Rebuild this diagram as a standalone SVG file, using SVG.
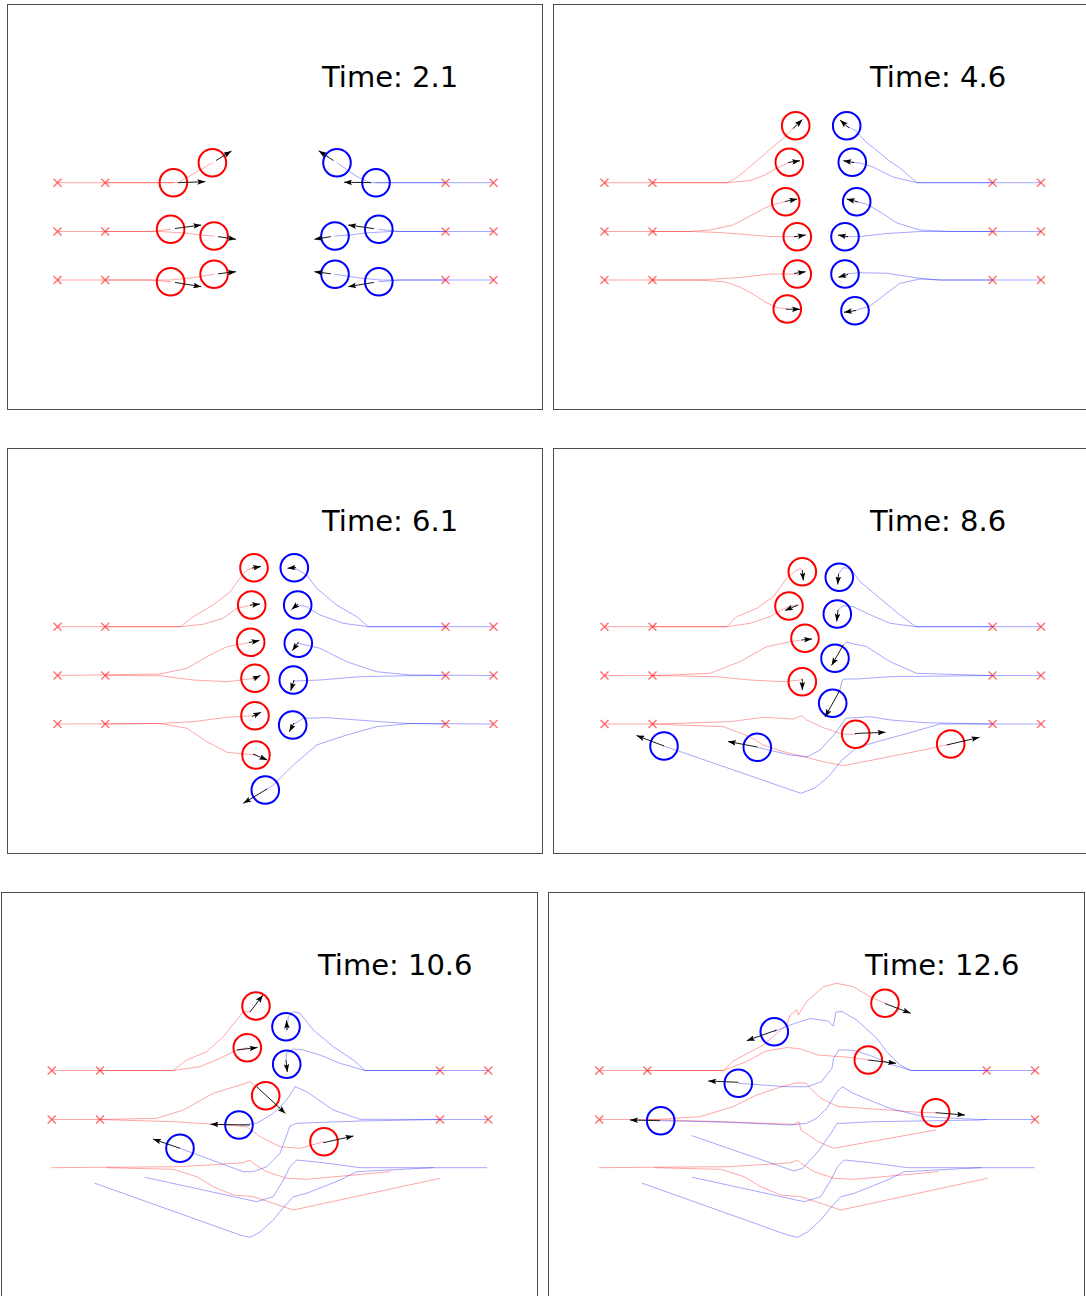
<svg xmlns="http://www.w3.org/2000/svg" xmlns:xlink="http://www.w3.org/1999/xlink" width="1086" height="1296" viewBox="0 0 1086 1296">
<style>
.fr{fill:none;stroke:#4d4d4d;stroke-width:1}
.t{font-family:"DejaVu Sans",sans-serif;font-size:29px;fill:#000}
.rp{fill:none;stroke:#ff0000;stroke-opacity:0.35;stroke-width:1;stroke-linejoin:round;stroke-linecap:round}
.bp{fill:none;stroke:#0000ff;stroke-opacity:0.35;stroke-width:1;stroke-linejoin:round;stroke-linecap:round}
.rc{fill:none;stroke:#ff0000;stroke-width:2}
.bc{fill:none;stroke:#0000ff;stroke-width:2}
.ar{stroke:#000;stroke-width:0.9;marker-end:url(#ah)}
.xm{fill:none;stroke:#ff0000;stroke-opacity:0.55;stroke-width:1.5}
</style>
<defs>
<marker id="ah" viewBox="0 0 10 7" refX="10" refY="3.5" markerWidth="8" markerHeight="5.6" markerUnits="userSpaceOnUse" orient="auto"><path d="M0,0 L10,3.5 L0,7 L2,3.5 z" fill="#000"/></marker>
<path id="x" class="xm" d="M-4,-4 L4,4 M-4,4 L4,-4"/>
<g id="row3">
<polyline class="rp" points="51.7,1167.7 180,1166.7 220,1164.3 243.3,1162.7 250,1160 253.3,1163.3 266.7,1171.7 286.7,1178.3 306.7,1179.3 390,1171.7"/>
<polyline class="rp" points="106.7,1167.7 173.3,1169.3 196.7,1176.7 213.3,1186.7 233.3,1195 253.3,1196.7 273.3,1203.3 293.3,1210 440,1178.3"/>
<polyline class="bp" points="486.7,1167.7 360,1167.7 323.3,1162.7 296.7,1160 290,1166.7 283.3,1180 273.3,1196.7 256.7,1201.7 145,1177.3"/>
<polyline class="bp" points="433.3,1167.7 356.7,1171.7 340,1180 306.7,1193.3 293.3,1196.7 283,1208 273.3,1220 260,1232 250,1237.3 240,1235 95,1183.3"/>
</g>
</defs>
<rect width="1086" height="1296" fill="#fff"/>

<g id="panel1">
<rect class="fr" x="7.5" y="4.5" width="535" height="405"/>
<text class="t" x="322" y="87">Time: 2.1</text>
<g id="p1-paths">
<polyline class="rp" points="57.5,182.7 173.4,182.7"/>
<polyline class="rp" points="105.2,182.7 178,182.7 188,177 200,170 212.4,162.7"/>
<polyline class="rp" points="57.5,231.5 150,231.5 170.6,229.3"/>
<polyline class="rp" points="105.2,231.5 160,231.5 185,233 200,235 214.1,236"/>
<polyline class="rp" points="57.5,280 150,280 170.6,281.7"/>
<polyline class="rp" points="105.2,280 170,280 190,278 214.1,274.3"/>
<polyline class="bp" points="493.5,182.7 376,182.7"/>
<polyline class="bp" points="445.5,182.7 370,182.7 356,176 337,162.7"/>
<polyline class="bp" points="493.5,231.5 400,231.5 378.8,229.3"/>
<polyline class="bp" points="445.5,231.5 390,231.5 365,233 350,235 335,236"/>
<polyline class="bp" points="493.5,280 400,280 378.8,281.7"/>
<polyline class="bp" points="445.5,280 380,280 360,278 335,274.3"/>
</g>
<g id="p1-marks">
<use xlink:href="#x" x="57.5" y="182.7"/><use xlink:href="#x" x="105.2" y="182.7"/><use xlink:href="#x" x="445.5" y="182.7"/><use xlink:href="#x" x="493.5" y="182.7"/>
<use xlink:href="#x" x="57.5" y="231.5"/><use xlink:href="#x" x="105.2" y="231.5"/><use xlink:href="#x" x="445.5" y="231.5"/><use xlink:href="#x" x="493.5" y="231.5"/>
<use xlink:href="#x" x="57.5" y="280"/><use xlink:href="#x" x="105.2" y="280"/><use xlink:href="#x" x="445.5" y="280"/><use xlink:href="#x" x="493.5" y="280"/>
</g>
<g id="p1-agents">
<circle class="rc" cx="173.4" cy="182.7" r="13.8"/><circle class="rc" cx="212.4" cy="162.7" r="13.8"/>
<circle class="rc" cx="170.6" cy="229.3" r="13.8"/><circle class="rc" cx="214.1" cy="236" r="13.8"/>
<circle class="rc" cx="170.6" cy="281.7" r="13.8"/><circle class="rc" cx="214.1" cy="274.3" r="13.8"/>
<circle class="bc" cx="337" cy="162.7" r="13.8"/><circle class="bc" cx="376" cy="182.7" r="13.8"/>
<circle class="bc" cx="378.8" cy="229.3" r="13.8"/><circle class="bc" cx="335" cy="236" r="13.8"/>
<circle class="bc" cx="335" cy="274.3" r="13.8"/><circle class="bc" cx="378.8" cy="281.7" r="13.8"/>
</g>
<g id="p1-arrows">
<line class="ar" x1="178" y1="182.7" x2="205.4" y2="181.7"/>
<line class="ar" x1="216" y1="160.5" x2="231.5" y2="151"/>
<line class="ar" x1="175" y1="228.5" x2="201.3" y2="225"/>
<line class="ar" x1="218" y1="236.6" x2="236" y2="239.3"/>
<line class="ar" x1="175" y1="282.4" x2="201.3" y2="286.7"/>
<line class="ar" x1="218" y1="273.8" x2="236" y2="271.7"/>
<line class="ar" x1="333.5" y1="160.5" x2="318.6" y2="150.7"/>
<line class="ar" x1="371" y1="182.6" x2="344" y2="182.3"/>
<line class="ar" x1="374" y1="228.6" x2="348.2" y2="225"/>
<line class="ar" x1="331" y1="236.6" x2="314.4" y2="239.3"/>
<line class="ar" x1="331" y1="273.8" x2="314.4" y2="271.7"/>
<line class="ar" x1="374" y1="282.4" x2="348.2" y2="286.7"/>
</g>
</g>

<g id="panel2">
<rect class="fr" x="553.5" y="4.5" width="540" height="405"/>
<text class="t" x="870" y="87">Time: 4.6</text>
<g id="p2-paths">
<polyline class="rp" points="652.5,182.7 727,182.7 736,178 745,171 760,158 774,146 785,137 791.7,130 795.7,125.7"/>
<polyline class="rp" points="604.5,182.7 727,182.7 750,180.5 765,175 777,168 789.3,162.3"/>
<polyline class="rp" points="604.5,231.5 690,231.5 710,230 733,225 750,216 765,208 775,204 785.7,201.7"/>
<polyline class="rp" points="652.5,231.5 690,231.5 720,232.5 745,234.5 770,236.5 797.3,236.7"/>
<polyline class="rp" points="604.5,280 700,280 740,277.5 770,274 797.3,274"/>
<polyline class="rp" points="652.5,280 700,280 725,282 740,287 753,294 765,302 777,307.5 787.3,309"/>
<polyline class="bp" points="992.6,182.7 917,182.7 908,175 900,168 890,161.5 880,153 866,142 856,131 846.7,125.7"/>
<polyline class="bp" points="1041,182.7 917,182.7 893,177 873,167 860,163 852.3,162.3"/>
<polyline class="bp" points="1041,231.5 950,231.5 920,230 897,223 877,210 866,204 856.7,201.7"/>
<polyline class="bp" points="992.6,231.5 950,231.5 920,231.5 887,233.5 860,236.5 845,236.7"/>
<polyline class="bp" points="1041,280 940,280 920,278.3 887,273.3 860,272.7 845,274"/>
<polyline class="bp" points="992.6,280 940,280 920,279 900,283.3 887,293 870,306 855,310.7"/>
</g>
<g id="p2-marks">
<use xlink:href="#x" x="604.5" y="182.7"/><use xlink:href="#x" x="652.5" y="182.7"/><use xlink:href="#x" x="992.6" y="182.7"/><use xlink:href="#x" x="1041" y="182.7"/>
<use xlink:href="#x" x="604.5" y="231.5"/><use xlink:href="#x" x="652.5" y="231.5"/><use xlink:href="#x" x="992.6" y="231.5"/><use xlink:href="#x" x="1041" y="231.5"/>
<use xlink:href="#x" x="604.5" y="280"/><use xlink:href="#x" x="652.5" y="280"/><use xlink:href="#x" x="992.6" y="280"/><use xlink:href="#x" x="1041" y="280"/>
</g>
<g id="p2-agents">
<circle class="rc" cx="795.7" cy="125.7" r="13.8"/><circle class="rc" cx="789.3" cy="162.3" r="13.8"/>
<circle class="rc" cx="785.7" cy="201.7" r="13.8"/><circle class="rc" cx="797.3" cy="236.7" r="13.8"/>
<circle class="rc" cx="797.3" cy="274" r="13.8"/><circle class="rc" cx="787.3" cy="309" r="13.8"/>
<circle class="bc" cx="846.7" cy="125.7" r="13.8"/><circle class="bc" cx="852.3" cy="162.3" r="13.8"/>
<circle class="bc" cx="856.7" cy="201.7" r="13.8"/><circle class="bc" cx="845" cy="236.7" r="13.8"/>
<circle class="bc" cx="845" cy="274" r="13.8"/><circle class="bc" cx="855" cy="310.7" r="13.8"/>
</g>
<g id="p2-arrows">
<line class="ar" x1="793" y1="128.5" x2="802.5" y2="119.5"/>
<line class="ar" x1="788" y1="162.5" x2="800" y2="160.7"/>
<line class="ar" x1="785" y1="201.5" x2="797.3" y2="199"/>
<line class="ar" x1="794" y1="236.7" x2="805.7" y2="235"/>
<line class="ar" x1="794" y1="273.5" x2="805.7" y2="271.7"/>
<line class="ar" x1="786" y1="309.2" x2="800" y2="309.3"/>
<line class="ar" x1="849" y1="128" x2="840" y2="120"/>
<line class="ar" x1="854" y1="162.5" x2="843.3" y2="160.7"/>
<line class="ar" x1="858" y1="202" x2="846.7" y2="199"/>
<line class="ar" x1="848" y1="236.7" x2="838" y2="235"/>
<line class="ar" x1="848" y1="274.5" x2="838.3" y2="277.3"/>
<line class="ar" x1="856" y1="310.5" x2="844" y2="312.3"/>
</g>
</g>

<g id="panel3">
<rect class="fr" x="7.5" y="448.5" width="535" height="405"/>
<text class="t" x="322" y="531">Time: 6.1</text>
<g id="p3-paths">
<polyline class="rp" points="57.5,626.7 180,626.7 193.3,616.7 213,605 230,592 240,578 247,570 254,567.7"/>
<polyline class="rp" points="105.2,626.7 180,626.7 203,624.3 223,618.3 237,608.3 251.7,605"/>
<polyline class="rp" points="57.5,675.5 160,674 187,668.3 210,655 227,646.7 250.7,642.3"/>
<polyline class="rp" points="105.2,675.5 160,675.7 193,680 227,681.7 255,678.3"/>
<polyline class="rp" points="57.5,724 160,723.5 193,721.7 227,717.3 255,715.7"/>
<polyline class="rp" points="105.2,724 160,723.5 187,728.3 207,741.7 227,752.3 256,755"/>
<polyline class="bp" points="493.5,626.7 368.3,626.7 356.7,616.7 336.7,605 316.7,588.3 306.7,575 294.3,567.7"/>
<polyline class="bp" points="445.5,626.7 368.3,626.7 343.3,623.3 320,615 306.7,606.7 297.7,605"/>
<polyline class="bp" points="493.5,675.5 410,675 376.7,671.7 346.7,661.7 320,648.3 298.3,643.3"/>
<polyline class="bp" points="445.5,675.5 410,675.7 360,676.7 320,680 293.3,681"/>
<polyline class="bp" points="493.5,724 410,723.5 380,721.7 326.7,717.7 303.3,718.3 292.7,725"/>
<polyline class="bp" points="445.5,724 410,723.5 376.7,726.7 346.7,735 316.7,745 293.3,765 273.3,785 265.3,790"/>
</g>
<g id="p3-marks">
<use xlink:href="#x" x="57.5" y="626.7"/><use xlink:href="#x" x="105.2" y="626.7"/><use xlink:href="#x" x="445.5" y="626.7"/><use xlink:href="#x" x="493.5" y="626.7"/>
<use xlink:href="#x" x="57.5" y="675.5"/><use xlink:href="#x" x="105.2" y="675.5"/><use xlink:href="#x" x="445.5" y="675.5"/><use xlink:href="#x" x="493.5" y="675.5"/>
<use xlink:href="#x" x="57.5" y="724"/><use xlink:href="#x" x="105.2" y="724"/><use xlink:href="#x" x="445.5" y="724"/><use xlink:href="#x" x="493.5" y="724"/>
</g>
<g id="p3-agents">
<circle class="rc" cx="254" cy="567.7" r="13.8"/><circle class="rc" cx="251.7" cy="605" r="13.8"/>
<circle class="rc" cx="250.7" cy="642.3" r="13.8"/><circle class="rc" cx="255" cy="678.3" r="13.8"/>
<circle class="rc" cx="255" cy="715.7" r="13.8"/><circle class="rc" cx="256" cy="755" r="13.8"/>
<circle class="bc" cx="294.3" cy="567.7" r="13.8"/><circle class="bc" cx="297.7" cy="605" r="13.8"/>
<circle class="bc" cx="298.3" cy="643.3" r="13.8"/><circle class="bc" cx="293.3" cy="680" r="13.8"/>
<circle class="bc" cx="292.7" cy="725" r="13.8"/><circle class="bc" cx="265.3" cy="790" r="13.8"/>
</g>
<g id="p3-arrows">
<line class="ar" x1="252" y1="568" x2="261" y2="566.5"/>
<line class="ar" x1="250" y1="605.2" x2="260" y2="604"/>
<line class="ar" x1="249" y1="642.5" x2="259.5" y2="640.5"/>
<line class="ar" x1="253" y1="679" x2="260.5" y2="675.5"/>
<line class="ar" x1="252" y1="716.5" x2="261" y2="712.3"/>
<line class="ar" x1="253" y1="754" x2="267.3" y2="760"/>
<line class="ar" x1="296" y1="567.5" x2="287.5" y2="568.3"/>
<line class="ar" x1="298" y1="604" x2="291.5" y2="609.5"/>
<line class="ar" x1="298.5" y1="642" x2="292.3" y2="650.7"/>
<line class="ar" x1="294" y1="680" x2="290.7" y2="690.7"/>
<line class="ar" x1="294" y1="723" x2="289.3" y2="731.7"/>
<line class="ar" x1="267" y1="789" x2="243.3" y2="803.3"/>
</g>
</g>

<g id="panel4">
<rect class="fr" x="553.5" y="448.5" width="540" height="405"/>
<text class="t" x="870" y="531">Time: 8.6</text>
<g id="p4-paths">
<polyline class="rp" points="604.5,626.7 726.7,626.7 736.7,616.7 756.7,608.3 773.3,596.7 786.7,578.3 795,571 800.7,568.3 802.3,571"/>
<polyline class="rp" points="652.5,626.7 726.7,626.7 750,623.3 770,616.7 781.7,610 789,606.5 798,605"/>
<polyline class="rp" points="604.5,675.5 656.7,675.5 710,673.3 740,661.7 766.7,646.7 790,641.7 802,640"/>
<polyline class="rp" points="652.5,675.5 716.7,676.7 750,680 783.3,681.7 800.7,680 802.3,678.3"/>
<polyline class="rp" points="604.5,724 656.7,724 730,721.7 763.3,717.3 793.3,719 801.7,715.7 806.7,720 823.3,727.7 843.3,734.3 855.7,734.3"/>
<polyline class="rp" points="652.5,724 723.3,726.7 750,736.7 763.3,745 783.3,751.7 803.3,756.7 823.3,761.7 843.3,765.7 923.3,750 950.7,744"/>
<polyline class="bp" points="1041,626.7 916,626.7 900,615 880,598.3 860,581.7 850,568.3 843.3,567.7 840,572 838.5,574"/>
<polyline class="bp" points="992.6,626.7 916,626.7 890,623.3 866.7,613.3 853.3,606.7 843.3,605.7 838,610"/>
<polyline class="bp" points="1041,675.5 990,675.5 916.7,673.3 890,661.7 866.7,646.7 846.7,642.3 843.3,645"/>
<polyline class="bp" points="992.6,675.5 890,676.7 856.7,679 843.3,679 841.7,681.7 840,690"/>
<polyline class="bp" points="1041,724 940,724 908,733.3 876.8,741.7 856,748.3 842,760 828.4,776.7 815,788 800.8,793.3 664,746"/>
<polyline class="bp" points="992.6,724 925,722.7 890.7,720 870,716.7 845.7,718.3 835.4,733.3 820,750 807.7,756.7 790,755 757.3,747.3"/>
</g>
<g id="p4-marks">
<use xlink:href="#x" x="604.5" y="626.7"/><use xlink:href="#x" x="652.5" y="626.7"/><use xlink:href="#x" x="992.6" y="626.7"/><use xlink:href="#x" x="1041" y="626.7"/>
<use xlink:href="#x" x="604.5" y="675.5"/><use xlink:href="#x" x="652.5" y="675.5"/><use xlink:href="#x" x="992.6" y="675.5"/><use xlink:href="#x" x="1041" y="675.5"/>
<use xlink:href="#x" x="604.5" y="724"/><use xlink:href="#x" x="652.5" y="724"/><use xlink:href="#x" x="992.6" y="724"/><use xlink:href="#x" x="1041" y="724"/>
</g>
<g id="p4-agents">
<circle class="rc" cx="802.3" cy="571.7" r="13.8"/><circle class="rc" cx="789" cy="606" r="13.8"/>
<circle class="rc" cx="805" cy="638.3" r="13.8"/><circle class="rc" cx="802.3" cy="681.7" r="13.8"/>
<circle class="rc" cx="855.7" cy="734.3" r="13.8"/><circle class="rc" cx="950.7" cy="744" r="13.8"/>
<circle class="bc" cx="839.3" cy="577.3" r="13.8"/><circle class="bc" cx="837.3" cy="614" r="13.8"/>
<circle class="bc" cx="835" cy="658.3" r="13.8"/><circle class="bc" cx="832.7" cy="703.3" r="13.8"/>
<circle class="bc" cx="664" cy="746" r="13.8"/><circle class="bc" cx="757.3" cy="747.3" r="13.8"/>
</g>
<g id="p4-arrows">
<line class="ar" x1="802.3" y1="570" x2="803.3" y2="580.5"/>
<line class="ar" x1="798" y1="605" x2="785" y2="610.5"/>
<line class="ar" x1="801.7" y1="640" x2="812" y2="639"/>
<line class="ar" x1="802.3" y1="679" x2="802.3" y2="690"/>
<line class="ar" x1="855" y1="733.5" x2="885.5" y2="732.3"/>
<line class="ar" x1="946.7" y1="745" x2="979.5" y2="737.3"/>
<line class="ar" x1="838.5" y1="574" x2="837.7" y2="584.5"/>
<line class="ar" x1="838" y1="610" x2="836.7" y2="621.5"/>
<line class="ar" x1="843.3" y1="645" x2="831.5" y2="665.5"/>
<line class="ar" x1="840" y1="690" x2="825" y2="717"/>
<line class="ar" x1="664" y1="746" x2="636.5" y2="735.5"/>
<line class="ar" x1="757.3" y1="747" x2="728" y2="741.5"/>
</g>
</g>

<g id="panel5">
<rect class="fr" x="1.5" y="892.5" width="536" height="420"/>
<text class="t" x="318" y="975">Time: 10.6</text>
<g id="p5-paths">
<polyline class="rp" points="51.7,1070.5 173.3,1070.5 186.7,1060 206.7,1051.7 223.3,1036.7 236.7,1020 243.3,1011.7 250,1011.7"/>
<polyline class="rp" points="100,1070.5 173.3,1070.5 200,1066.7 220,1058.3 233.3,1051.7 240,1049.3 247.3,1047.7"/>
<polyline class="rp" points="51.7,1119.5 100,1119.5 156.7,1118.3 183.3,1110 213.3,1093.3 236.7,1086 250,1081.7 256.7,1086.7"/>
<polyline class="rp" points="100,1119.5 173.3,1121.7 226.7,1125 246.7,1126.7 260,1136.7 280,1146.7 300,1148.3 324,1141.7"/>
<polyline class="bp" points="488.3,1070.5 365,1070.5 353.3,1060 333.3,1046.7 313.3,1030 300,1013.3 293.3,1011.7 288.3,1016.7 287,1030"/>
<polyline class="bp" points="440,1070.5 365,1070.5 340,1063.3 320,1055 303.3,1050 293.3,1049 286.7,1053.3 286,1060"/>
<polyline class="bp" points="488.3,1119.5 440,1119.5 360,1119.3 333.3,1110 306.7,1091.7 295,1086.7 286.7,1100 273.3,1113.3 256.7,1123.3 240,1125"/>
<polyline class="bp" points="440,1119.5 360,1121 296.7,1123.3 290,1126 286.7,1135 280,1153.3 266.7,1166.7 253.3,1171.7 243.3,1171.7 180,1148.3"/>
<use xlink:href="#row3"/>
</g>
<g id="p5-marks">
<use xlink:href="#x" x="51.7" y="1070.5"/><use xlink:href="#x" x="100" y="1070.5"/><use xlink:href="#x" x="440" y="1070.5"/><use xlink:href="#x" x="488.3" y="1070.5"/>
<use xlink:href="#x" x="51.7" y="1119.5"/><use xlink:href="#x" x="100" y="1119.5"/><use xlink:href="#x" x="440" y="1119.5"/><use xlink:href="#x" x="488.3" y="1119.5"/>
</g>
<g id="p5-agents">
<circle class="rc" cx="256" cy="1006" r="13.8"/><circle class="rc" cx="247.3" cy="1047.7" r="13.8"/>
<circle class="rc" cx="265.7" cy="1095.7" r="13.8"/><circle class="rc" cx="324" cy="1141.7" r="13.8"/>
<circle class="bc" cx="286" cy="1026.7" r="13.8"/><circle class="bc" cx="286.7" cy="1064.3" r="13.8"/>
<circle class="bc" cx="239" cy="1125" r="13.8"/><circle class="bc" cx="180" cy="1148.3" r="13.8"/>
</g>
<g id="p5-arrows">
<line class="ar" x1="250" y1="1012" x2="263" y2="995"/>
<line class="ar" x1="237" y1="1050" x2="257.5" y2="1047.5"/>
<line class="ar" x1="256.7" y1="1086.7" x2="285.5" y2="1113.5"/>
<line class="ar" x1="323.3" y1="1142.7" x2="353.5" y2="1136"/>
<line class="ar" x1="287" y1="1030" x2="286.5" y2="1020.5"/>
<line class="ar" x1="286" y1="1060" x2="287.3" y2="1072"/>
<line class="ar" x1="250" y1="1125" x2="210.5" y2="1124.3"/>
<line class="ar" x1="180" y1="1148.3" x2="153" y2="1139"/>
</g>
</g>

<g id="panel6">
<rect class="fr" x="548.5" y="892.5" width="536" height="420"/>
<text class="t" x="865" y="975">Time: 12.6</text>
<g id="p6-paths">
<polyline class="rp" points="599.3,1070.5 723.3,1070.5 733.3,1061 763.3,1045 786.7,1025 790,1015 796.7,1010 798.3,1015 806.7,1001.7 823.3,986.7 836.7,983.3 853.3,986.7 870,996.7 885,1003.3"/>
<polyline class="rp" points="647.3,1070.5 723.3,1070.5 745.5,1062 766.2,1051 787,1047.5 800.8,1049 818,1055 849,1057.3 868.3,1060"/>
<polyline class="rp" points="599.3,1119.5 656.7,1119.5 700,1116.7 733,1106.7 756.7,1095 776.7,1088.3 795,1083 806,1083 812,1090 822,1099 838,1106.5 873,1109 922,1112.5 935.7,1112.7"/>
<polyline class="rp" points="647.3,1119.5 723.3,1121.7 793.9,1124.3 799,1121.7 800.8,1130 818.1,1141.7 833.6,1148.3 935.6,1130"/>
<polyline class="bp" points="1035,1070.5 911,1070.5 900,1065 886.7,1051.7 876.7,1038.3 856.7,1020 842,1011.5 836,1012 833.3,1026 828,1021 810,1018.5 790,1025 774.3,1031.7"/>
<polyline class="bp" points="986.7,1070.5 911,1070.5 893.3,1065 873.3,1056.7 856.7,1051 849.2,1050 838.8,1050 833.6,1058.3 831.9,1068.3 821.5,1081.7 807.7,1086.7 787,1086.7 738.3,1083.3"/>
<polyline class="bp" points="1035,1119.5 980,1119.5 923.3,1116.7 890,1108.3 873.3,1101.7 853.3,1093.3 842.3,1086.7 837,1092 826.7,1108.3 816.7,1118.3 806.7,1123.3 790,1125 720,1122 660.7,1120.7"/>
<polyline class="bp" points="986.7,1119.5 980.5,1120 873.4,1121.7 842.3,1123.3 837.1,1123.3 831.9,1131.7 818.1,1151.7 802.5,1168.3 793.9,1171 691.9,1135.7"/>
<use xlink:href="#row3" transform="translate(547.5,0)"/>
</g>
<g id="p6-marks">
<use xlink:href="#x" x="599.3" y="1070.5"/><use xlink:href="#x" x="647.3" y="1070.5"/><use xlink:href="#x" x="986.7" y="1070.5"/><use xlink:href="#x" x="1035" y="1070.5"/>
<use xlink:href="#x" x="599.3" y="1119.5"/><use xlink:href="#x" x="1035" y="1119.5"/>
</g>
<g id="p6-agents">
<circle class="rc" cx="885" cy="1003.3" r="13.8"/><circle class="rc" cx="868.3" cy="1060" r="13.8"/>
<circle class="rc" cx="935.7" cy="1112.7" r="13.8"/>
<circle class="bc" cx="774.3" cy="1031.7" r="13.8"/><circle class="bc" cx="738.3" cy="1083.3" r="13.8"/>
<circle class="bc" cx="660.7" cy="1120.7" r="13.8"/>
</g>
<g id="p6-arrows">
<line class="ar" x1="885" y1="1003.5" x2="910.7" y2="1013.3"/>
<line class="ar" x1="868.3" y1="1060" x2="896" y2="1063.3"/>
<line class="ar" x1="935.7" y1="1112.7" x2="965" y2="1115"/>
<line class="ar" x1="776.7" y1="1030" x2="746.7" y2="1040.7"/>
<line class="ar" x1="738.3" y1="1082.3" x2="708.3" y2="1081"/>
<line class="ar" x1="660" y1="1120.7" x2="630" y2="1120"/>
</g>
</g>
</svg>
